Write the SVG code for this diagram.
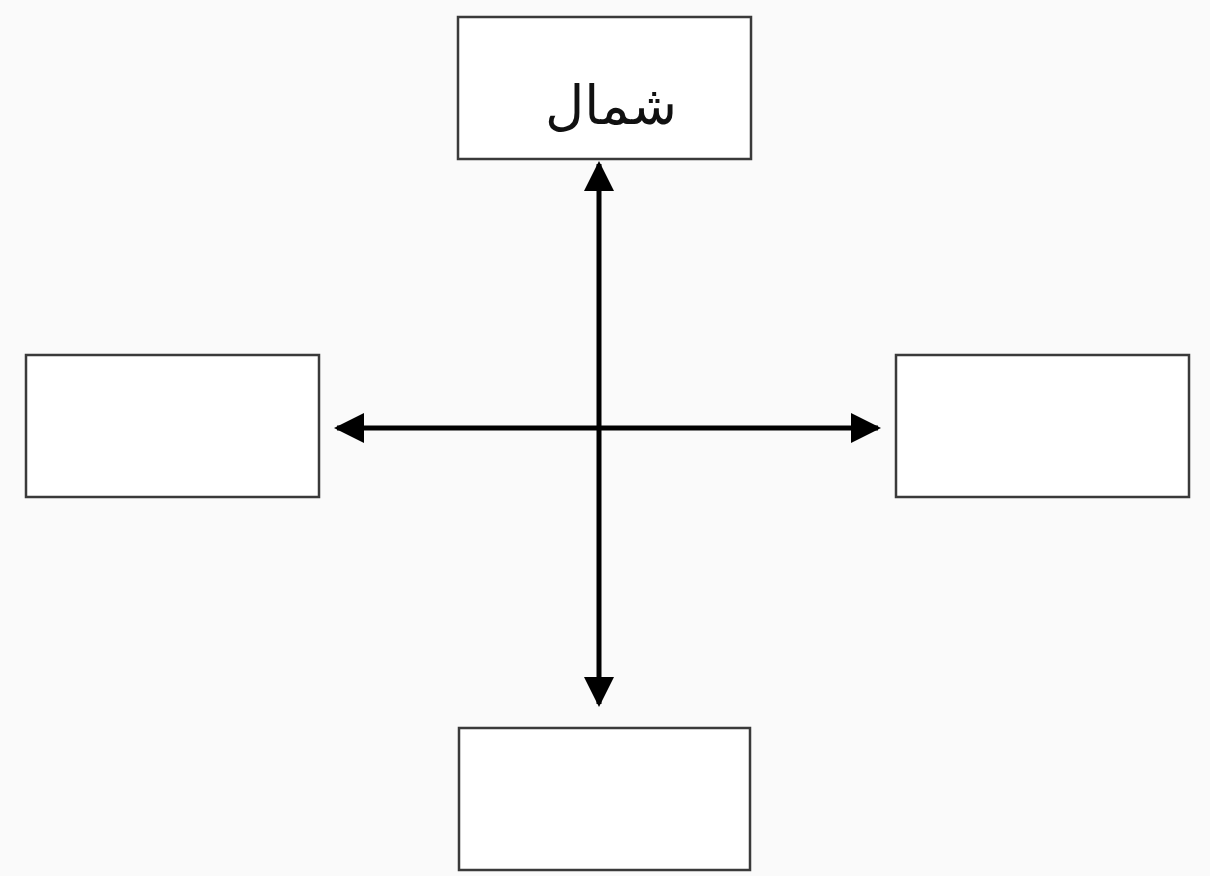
<svg xmlns="http://www.w3.org/2000/svg" width="1210" height="876" viewBox="0 0 1210 876">
<style>
.box{fill:#ffffff;stroke:#3a3a3a;stroke-width:2.5}
.conn{stroke:#000;stroke-width:5;fill:none}
.lbl{font-family:"DejaVu Sans","Noto Sans",sans-serif;font-size:54px;fill:#111;text-anchor:middle}
</style>
<defs>
<marker id="ah" viewBox="0 0 10 10" refX="9" refY="5" markerWidth="6" markerHeight="6" markerUnits="strokeWidth" orient="auto-start-reverse">
<path d="M0,0 L10,5 L0,10 Z" fill="#000"/>
</marker>
</defs>
<rect width="1210" height="876" fill="#fafafa"/>
<g id="north"><rect class="box" x="458" y="17" width="293" height="142"/><text class="lbl" x="611" y="124" direction="rtl" text-anchor="middle">شمال</text></g>
<g id="west"><rect class="box" x="26" y="355" width="293" height="142"/></g>
<g id="east"><rect class="box" x="896" y="355" width="293" height="142"/></g>
<g id="south"><rect class="box" x="459" y="728" width="291" height="142"/></g>
<g id="connectors">
<line class="conn" x1="599" y1="164" x2="599" y2="704" marker-start="url(#ah)" marker-end="url(#ah)"/>
<line class="conn" x1="337" y1="428" x2="878" y2="428" marker-start="url(#ah)" marker-end="url(#ah)"/>
</g>
</svg>
